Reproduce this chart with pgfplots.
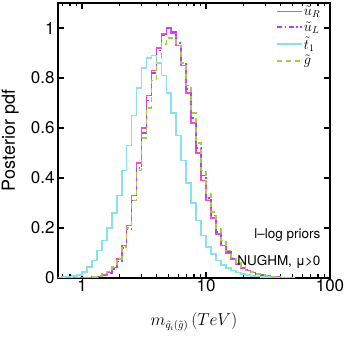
\documentclass[border=0pt]{standalone}
\usepackage{fontspec}
\setmainfont{TeX Gyre Heros}
\usepackage{pgfplots}
\usepackage{pgfplotstable}
\pgfplotsset{compat=1.18}
\definecolor{pinkR}{RGB}{255,70,200}
\definecolor{violetL}{RGB}{185,60,250}
\definecolor{cyanT}{RGB}{135,225,240}
\definecolor{greenG}{RGB}{160,205,70}

% histogram bins: left edge in log10(m/TeV)
\pgfplotstableread{
lx     uR     uL     t1     gl
-0.20  0      0      0      0
-0.16  0      0      0.003  0
-0.12  0      0      0.005  0
-0.08  0      0      0.008  0
-0.04  0      0      0.013  0
0.00   0      0      0.025  0.001
0.04   0.001  0.001  0.045  0.002
0.08   0.003  0.002  0.07   0.004
0.12   0.006  0.005  0.11   0.008
0.16   0.012  0.010  0.15   0.015
0.20   0.022  0.019  0.20   0.026
0.24   0.042  0.036  0.26   0.045
0.28   0.075  0.066  0.33   0.077
0.32   0.13   0.12   0.43   0.125
0.36   0.21   0.195  0.53   0.20
0.40   0.33   0.31   0.65   0.31
0.44   0.46   0.44   0.76   0.43
0.48   0.60   0.58   0.84   0.56
0.52   0.73   0.71   0.88   0.68
0.56   0.83   0.82   0.89   0.79
0.60   0.92   0.91   0.86   0.88
0.64   0.975  0.97   0.81   0.935
0.68   1.0    1.0    0.74   0.96
0.72   0.98   0.985  0.66   0.96
0.76   0.93   0.94   0.57   0.93
0.80   0.85   0.86   0.47   0.86
0.84   0.74   0.755  0.38   0.77
0.88   0.62   0.64   0.30   0.66
0.92   0.50   0.52   0.23   0.54
0.96   0.39   0.41   0.17   0.43
1.00   0.31   0.32   0.125  0.34
1.04   0.24   0.25   0.095  0.265
1.08   0.175  0.185  0.07   0.20
1.12   0.13   0.14   0.052  0.15
1.16   0.10   0.105  0.04   0.11
1.20   0.075  0.078  0.03   0.082
1.24   0.055  0.058  0.022  0.06
1.28   0.04   0.042  0.016  0.044
1.32   0.03   0.031  0.012  0.032
1.36   0.022  0.022  0.009  0.023
1.40   0.015  0.016  0.006  0.016
1.44   0.01   0.011  0.004  0.011
1.48   0.007  0.007  0.003  0.007
1.52   0.005  0.005  0.002  0.005
1.56   0.003  0.003  0.001  0.003
1.60   0.002  0.002  0      0.002
1.64   0.001  0.001  0      0.001
1.68   0      0      0      0
1.72   0      0      0      0
}\hist

\begin{document}
\begin{tikzpicture}
\begin{axis}[
    scale only axis,
    width=272pt, height=275pt,
    xmode=log,
    xmin=0.64, xmax=100,
    ymin=0, ymax=1.1,
    xtick={1,10,100}, xticklabels={1,10,100},
    minor xtick={0.7,0.8,0.9,2,3,4,5,6,7,8,9,20,30,40,50,60,70,80,90},
    ytick={0,0.2,0.4,0.6,0.8,1},
    yticklabels={0,0.2,0.4,0.6,0.8,1},
    /pgf/number format/assume math mode=true,
    tick label style={font=\fontsize{17}{19}\selectfont},
    xticklabel style={yshift=2pt},
    axis line style={line width=1.3pt},
    every tick/.style={black, line width=1.1pt},
    major tick length=6pt, minor tick length=3.5pt,
    xlabel={$m_{\tilde{q}_i(\tilde{g})}\,(TeV)$},
    xlabel style={at={(axis description cs:0.5,-0.16)}, anchor=center, font=\fontsize{16}{18}\selectfont},
    ylabel={Posterior pdf},
    ylabel style={at={(axis description cs:-0.176,0.5)}, anchor=center, font=\fontsize{18}{20}\selectfont},
    legend style={at={(rel axis cs:0.972,0.997)}, anchor=north east, draw=none, fill=none,
        font=\fontsize{14}{15}\selectfont, row sep=2.5pt, inner sep=1pt,
        nodes={inner sep=1pt}},
    legend cell align=left,
    legend image code/.code={\draw[#1, line width=1.6pt] (0pt,0pt) -- (25pt,0pt);},
]
\addplot[const plot, solid, color={rgb,255:red,255;green,70;blue,200}, line width=1.6pt] table[x expr=10^\thisrow{lx}, y=uR] {\hist};
\addlegendentry{$\tilde{u}_R$}
\addplot[const plot, draw=violetL, line width=1.6pt, dash pattern=on 5pt off 2.5pt on 1.5pt off 2.5pt] table[x expr=10^\thisrow{lx}, y=uL] {\hist};
\addlegendentry{$\tilde{u}_L$}
\addplot[const plot, draw=cyanT, line width=1.6pt] table[x expr=10^\thisrow{lx}, y=t1] {\hist};
\addlegendentry{$\tilde{t}_1$}
\addplot[const plot, draw=greenG, line width=1.6pt, dash pattern=on 5pt off 4pt] table[x expr=10^\thisrow{lx}, y=gl] {\hist};
\addlegendentry{$\tilde{g}$}
\node[anchor=east, font=\fontsize{13.5}{15}\selectfont] at (rel axis cs:0.978,0.156) {l--log priors};
\node[anchor=east, font=\fontsize{13.5}{15}\selectfont] at (rel axis cs:0.978,0.058) {NUGHM, μ>0};
\coordinate (bl) at (rel axis cs:0,0);
\coordinate (tr) at (rel axis cs:1,1);
\end{axis}
\pgfresetboundingbox
\path[use as bounding box] ([shift={(-58pt,-61pt)}]bl) rectangle ([shift={(15pt,3pt)}]tr);
\end{tikzpicture}
\end{document}
